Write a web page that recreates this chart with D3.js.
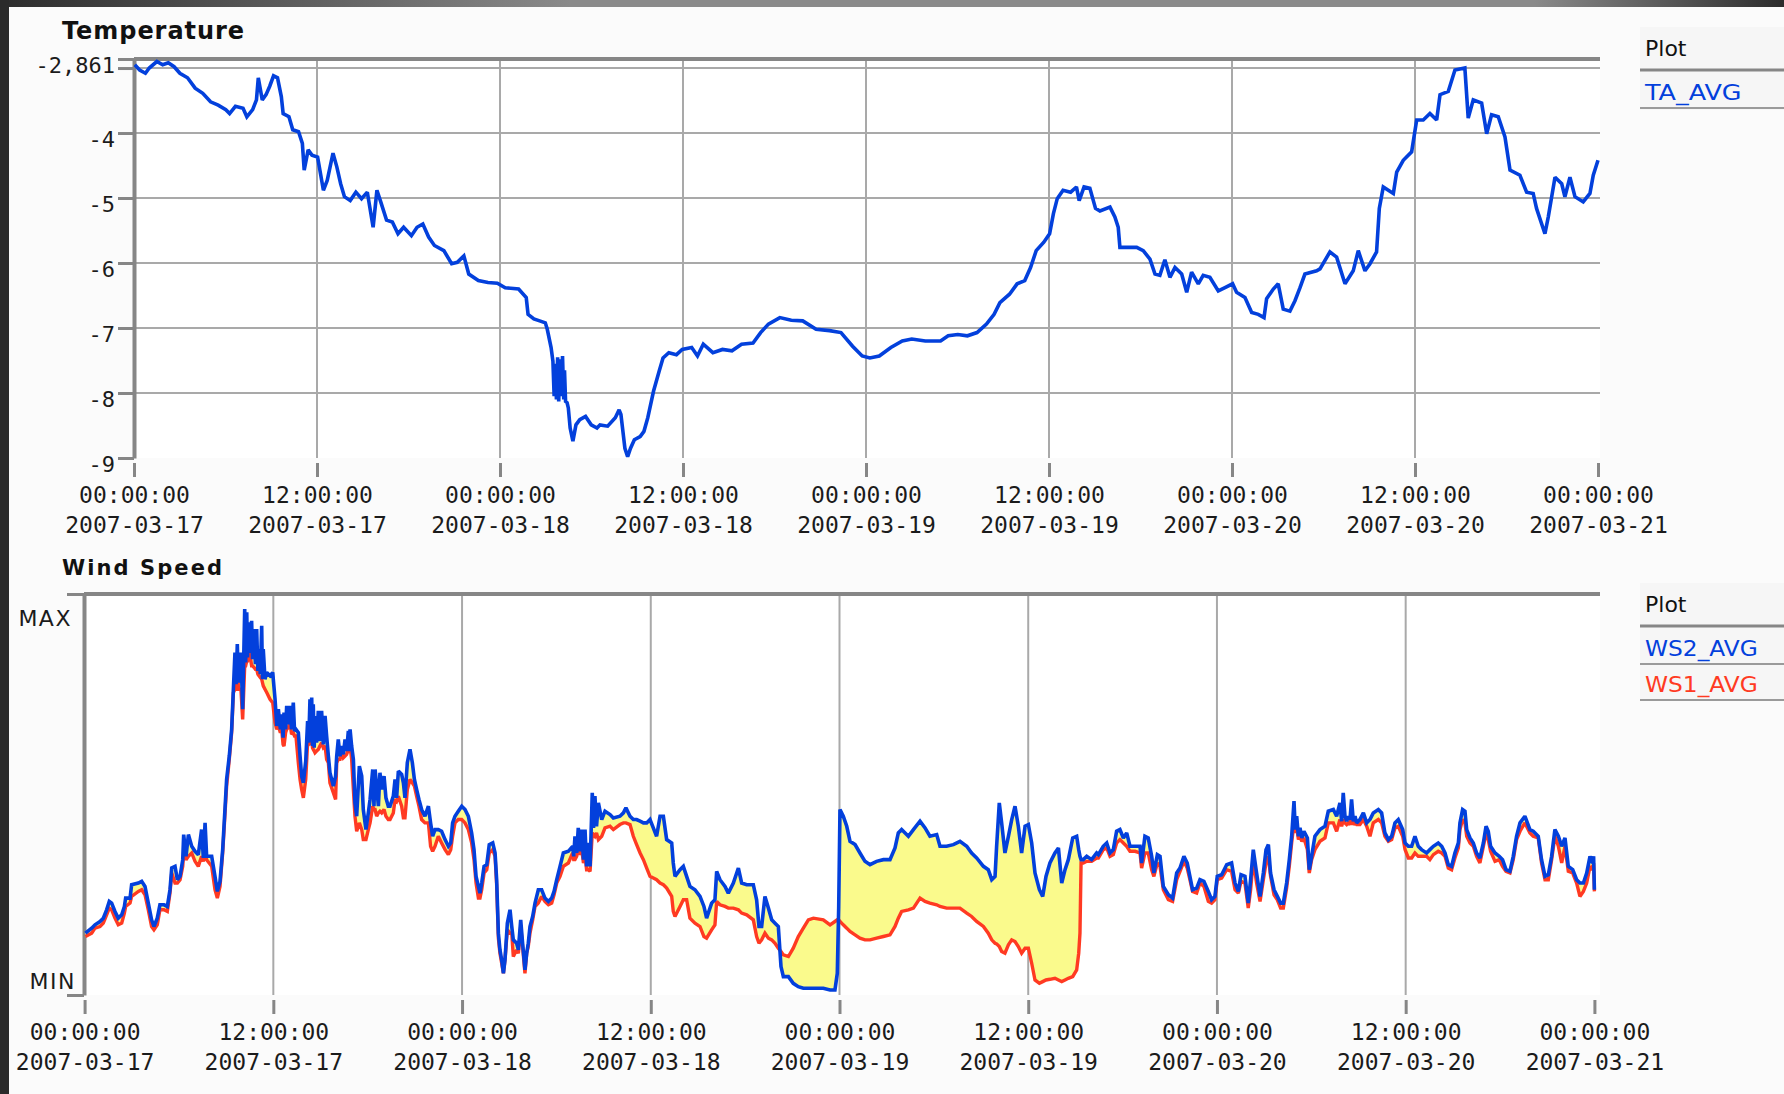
<!DOCTYPE html>
<html>
<head>
<meta charset="utf-8">
<title>Temperature and Wind Speed</title>
<script src="https://cdn.jsdelivr.net/npm/d3@7/dist/d3.min.js"></script>
<style>
  html, body { margin: 0; padding: 0; background: #fbfbfb; }
  svg { display: block; }
</style>
</head>
<body>
<svg id="chart" width="1784" height="1094"></svg>
<script>
// ---- Temperature (TA_AVG), hours after 2007-03-17 00:00 ----
const TA_AVG_HOURS = [
  0.05, 0.37, 0.75, 1.00, 1.50, 1.88, 2.25, 2.63, 3.01, 3.51,
  4.01, 4.51, 5.02, 5.52, 6.02, 6.27, 6.65, 7.15, 7.40, 7.78,
  8.03, 8.15, 8.41, 8.66, 8.90, 9.15, 9.41, 9.66, 9.78, 10.16,
  10.41, 10.79, 11.04, 11.16, 11.42, 11.67, 12.04, 12.42, 12.67, 13.05,
  13.30, 13.55, 13.80, 14.18, 14.55, 14.92, 15.30, 15.68, 15.93, 16.18,
  16.56, 16.94, 17.31, 17.68, 18.19, 18.56, 18.94, 19.32, 19.70, 20.32,
  20.83, 21.20, 21.63, 21.95, 22.58, 23.21, 23.83, 24.34, 25.22, 25.72,
  25.84, 26.22, 26.60, 26.97, 27.10, 27.35, 27.47, 27.55, 27.62, 27.70,
  27.78, 27.85, 27.93, 28.00, 28.10, 28.18, 28.23, 28.30, 28.40, 28.48,
  28.60, 28.78, 28.98, 29.23, 29.61, 29.98, 30.36, 30.56, 31.06, 31.56,
  31.81, 31.93, 32.19, 32.37, 32.56, 32.81, 33.19, 33.44, 33.69, 34.07,
  34.44, 34.69, 35.07, 35.57, 35.95, 36.57, 36.95, 37.33, 37.96, 38.59,
  39.21, 39.84, 40.59, 41.09, 41.60, 42.35, 43.10, 43.85, 44.73, 45.61,
  46.36, 47.12, 47.75, 48.25, 48.87, 49.63, 50.38, 51.00, 51.89, 52.89,
  53.39, 54.02, 54.65, 55.28, 55.90, 56.40, 56.78, 57.41, 57.91, 58.41,
  58.79, 59.16, 59.66, 60.04, 60.29, 60.54, 60.92, 61.42, 61.80, 61.98,
  62.30, 62.68, 63.05, 63.34, 64.00, 64.32, 64.54, 64.65, 65.75, 66.18,
  66.62, 66.95, 67.27, 67.60, 67.93, 68.26, 68.70, 69.03, 69.35, 69.79,
  70.11, 70.55, 71.10, 71.54, 72.04, 72.30, 72.85, 73.29, 73.72, 74.10,
  74.27, 74.71, 75.03, 75.36, 75.80, 76.13, 76.46, 76.78, 77.55, 77.77,
  78.42, 78.86, 79.41, 79.95, 80.28, 80.72, 81.05, 81.48, 81.66, 81.92,
  82.58, 82.80, 83.23, 83.78, 84.11, 84.54, 84.98, 85.42, 85.64, 86.18,
  86.62, 87.27, 87.49, 87.82, 88.37, 88.70, 89.02, 89.46, 89.90, 90.23,
  90.88, 91.32, 91.75, 91.97, 92.52, 92.74, 93.18, 93.62, 93.83, 94.16,
  94.49, 95.03, 95.47, 95.69, 96.00
];
const TA_AVG = [
  -2.95, -3.03, -3.08, -3.00, -2.90, -2.95, -2.92, -2.98, -3.08, -3.15,
  -3.31, -3.39, -3.52, -3.57, -3.64, -3.70, -3.59, -3.62, -3.75, -3.64,
  -3.49, -3.15, -3.49, -3.41, -3.28, -3.12, -3.15, -3.44, -3.70, -3.75,
  -3.95, -3.98, -4.16, -4.57, -4.26, -4.34, -4.37, -4.88, -4.73, -4.31,
  -4.52, -4.78, -4.98, -5.04, -4.91, -5.01, -4.91, -5.45, -4.88, -5.06,
  -5.34, -5.37, -5.55, -5.45, -5.58, -5.45, -5.40, -5.60, -5.73, -5.81,
  -6.01, -5.99, -5.89, -6.17, -6.27, -6.30, -6.31, -6.38, -6.40, -6.53,
  -6.79, -6.86, -6.89, -6.92, -7.02, -7.30, -7.51, -8.05, -7.55, -8.10,
  -7.45, -8.13, -7.48, -8.05, -7.43, -8.10, -7.65, -8.13, -8.15, -8.23,
  -8.54, -8.74, -8.49, -8.41, -8.36, -8.49, -8.54, -8.49, -8.51, -8.38,
  -8.26, -8.33, -8.85, -8.98, -8.85, -8.72, -8.67, -8.59, -8.38, -7.97,
  -7.66, -7.46, -7.38, -7.41, -7.33, -7.30, -7.43, -7.25, -7.38, -7.33,
  -7.35, -7.25, -7.23, -7.07, -6.94, -6.84, -6.88, -6.89, -7.02, -7.04,
  -7.07, -7.28, -7.43, -7.46, -7.43, -7.30, -7.20, -7.17, -7.20, -7.20,
  -7.12, -7.10, -7.12, -7.07, -6.94, -6.79, -6.61, -6.48, -6.32, -6.27,
  -6.07, -5.81, -5.68, -5.55, -5.24, -5.01, -4.88, -4.91, -4.83, -5.04,
  -4.83, -4.85, -5.16, -5.20, -5.14, -5.29, -5.45, -5.76, -5.76, -5.81,
  -5.94, -6.17, -6.19, -5.95, -6.22, -6.07, -6.17, -6.45, -6.14, -6.32,
  -6.19, -6.22, -6.43, -6.38, -6.32, -6.45, -6.53, -6.76, -6.79, -6.84,
  -6.55, -6.40, -6.32, -6.71, -6.74, -6.58, -6.38, -6.17, -6.12, -6.09,
  -5.83, -5.91, -6.32, -6.12, -5.81, -6.12, -6.01, -5.83, -5.16, -4.83,
  -4.93, -4.60, -4.42, -4.29, -3.80, -3.80, -3.70, -3.80, -3.41, -3.36,
  -3.03, -3.00, -3.77, -3.49, -3.54, -4.01, -3.72, -3.75, -4.06, -4.57,
  -4.65, -4.91, -4.93, -5.16, -5.55, -5.29, -4.68, -4.78, -4.98, -4.68,
  -4.98, -5.06, -4.93, -4.65, -4.42
];

// ---- Wind speed (WS2_AVG, WS1_AVG), hours after 2007-03-17 00:00 ----
const WIND_HOURS = [
  0.05, 0.45, 0.66, 0.98, 1.19, 1.40, 1.57, 1.72, 1.93, 2.14,
  2.36, 2.53, 2.61, 2.89, 2.99, 3.42, 3.63, 3.84, 4.05, 4.26,
  4.41, 4.62, 4.79, 5.05, 5.26, 5.43, 5.54, 5.75, 5.90, 6.07,
  6.24, 6.30, 6.45, 6.60, 6.81, 7.02, 7.23, 7.44, 7.55, 7.66,
  7.76, 8.08, 8.29, 8.44, 8.61, 8.78, 8.93, 9.03, 9.20, 9.35,
  9.46, 9.56, 9.63, 9.71, 9.78, 9.84, 9.94, 10.05, 10.18, 10.24,
  10.31, 10.36, 10.41, 10.48, 10.56, 10.62, 10.68, 10.78, 10.86, 10.94,
  11.02, 11.09, 11.17, 11.26, 11.31, 11.36, 11.47, 11.58, 11.79, 11.96,
  12.11, 12.22, 12.32, 12.45, 12.53, 12.62, 12.68, 12.78, 12.85, 12.95,
  13.06, 13.16, 13.27, 13.35, 13.44, 13.59, 13.70, 13.80, 13.91, 14.06,
  14.18, 14.25, 14.33, 14.39, 14.44, 14.49, 14.54, 14.60, 14.65, 14.75,
  14.86, 14.96, 15.07, 15.18, 15.29, 15.39, 15.50, 15.60, 15.82, 15.96,
  16.03, 16.13, 16.24, 16.35, 16.45, 16.56, 16.66, 16.77, 16.83, 16.88,
  16.98, 17.09, 17.19, 17.30, 17.47, 17.62, 17.72, 17.89, 18.04, 18.15,
  18.32, 18.40, 18.47, 18.57, 18.68, 18.78, 18.89, 19.04, 19.16, 19.31,
  19.42, 19.63, 19.74, 19.84, 19.95, 20.16, 20.27, 20.37, 20.52, 20.69,
  20.84, 20.97, 21.11, 21.26, 21.43, 21.64, 21.86, 22.00, 22.13, 22.28,
  22.49, 22.70, 22.92, 23.13, 23.28, 23.40, 23.55, 23.76, 23.98, 24.19,
  24.40, 24.61, 24.76, 24.89, 25.04, 25.14, 25.25, 25.40, 25.57, 25.73,
  25.95, 26.10, 26.20, 26.31, 26.41, 26.52, 26.63, 26.73, 26.88, 27.05,
  27.16, 27.26, 27.47, 27.58, 27.73, 27.85, 28.00, 28.11, 28.21, 28.32,
  28.49, 28.64, 28.85, 29.06, 29.27, 29.49, 29.70, 29.85, 30.02, 30.23,
  30.44, 30.76, 31.03, 31.10, 31.18, 31.29, 31.39, 31.50, 31.61, 31.72,
  31.82, 31.92, 32.03, 32.14, 32.28, 32.36, 32.45, 32.55, 32.67, 32.88,
  33.09, 33.41, 33.62, 34.04, 34.26, 34.42, 34.68, 34.89, 35.10, 35.32,
  35.53, 35.74, 35.95, 36.16, 36.37, 36.59, 36.80, 37.01, 37.33, 37.43,
  37.54, 37.86, 38.07, 38.28, 38.49, 38.81, 39.13, 39.38, 39.55, 39.87,
  40.08, 40.19, 40.40, 40.72, 40.93, 41.25, 41.57, 41.78, 42.10, 42.52,
  42.73, 42.88, 43.05, 43.26, 43.48, 43.69, 43.90, 44.11, 44.28, 44.43,
  44.75, 45.06, 45.38, 45.70, 46.02, 46.34, 46.97, 47.40, 47.71, 47.86,
  47.95, 48.03, 48.24, 48.46, 48.67, 48.99, 49.30, 49.62, 49.94, 50.36,
  50.79, 51.21, 51.53, 51.74, 51.95, 52.38, 52.70, 53.12, 53.44, 53.75,
  54.18, 54.39, 54.81, 55.24, 55.66, 56.09, 56.40, 56.72, 57.15, 57.46,
  57.68, 57.89, 57.99, 58.16, 58.31, 58.52, 58.74, 58.95, 59.16, 59.37,
  59.58, 59.80, 60.01, 60.22, 60.43, 60.71, 60.92, 61.13, 61.38, 61.70,
  61.92, 62.13, 62.34, 62.55, 62.83, 63.08, 63.21, 63.29, 63.36, 63.50,
  63.72, 64.03, 64.35, 64.46, 64.77, 64.99, 65.20, 65.41, 65.62, 65.83,
  66.05, 66.26, 66.47, 66.79, 67.11, 67.21, 67.42, 67.63, 67.85, 67.99,
  68.21, 68.38, 68.59, 68.91, 69.18, 69.44, 69.65, 69.90, 70.11, 70.28,
  70.45, 70.71, 70.92, 71.17, 71.45, 71.66, 71.87, 72.02, 72.30, 72.62,
  72.93, 73.15, 73.36, 73.53, 73.78, 73.99, 74.14, 74.31, 74.52, 74.74,
  74.95, 75.12, 75.27, 75.41, 75.63, 75.84, 76.05, 76.22, 76.43, 76.60,
  76.75, 76.90, 76.98, 77.07, 77.18, 77.28, 77.40, 77.53, 77.75, 77.87,
  78.02, 78.23, 78.55, 78.87, 79.08, 79.40, 79.61, 79.82, 79.93, 80.03,
  80.14, 80.25, 80.35, 80.46, 80.56, 80.67, 80.78, 80.88, 81.09, 81.31,
  81.52, 81.73, 81.94, 82.26, 82.47, 82.68, 82.90, 83.11, 83.32, 83.53,
  83.81, 83.96, 84.17, 84.38, 84.59, 84.80, 85.01, 85.33, 85.54, 85.76,
  86.07, 86.29, 86.50, 86.71, 86.92, 87.13, 87.35, 87.45, 87.62, 87.77,
  87.88, 88.09, 88.30, 88.51, 88.72, 88.94, 89.11, 89.25, 89.40, 89.68,
  89.95, 90.16, 90.38, 90.63, 90.84, 91.05, 91.27, 91.58, 91.90, 92.11,
  92.43, 92.64, 92.86, 93.07, 93.28, 93.49, 93.71, 93.92, 94.13, 94.34,
  94.62, 94.87, 95.08, 95.30, 95.51, 95.72, 95.89, 95.95, 96.00
];
const WS2_AVG = [
  1.85, 2.00, 2.10, 2.20, 2.30, 2.55, 2.80, 2.75, 2.50, 2.30,
  2.40, 2.65, 2.90, 2.90, 3.30, 3.35, 3.40, 3.25, 2.75, 2.25,
  2.05, 2.30, 2.70, 2.70, 2.65, 3.15, 3.80, 3.85, 3.45, 3.55,
  4.05, 4.80, 4.15, 4.80, 4.45, 4.30, 4.20, 4.95, 4.10, 5.15,
  4.15, 4.15, 3.55, 3.10, 3.40, 4.35, 5.60, 6.45, 7.15, 7.95,
  9.15, 10.25, 9.30, 10.50, 9.35, 9.70, 10.25, 8.55, 11.55, 9.95,
  11.45, 10.10, 11.15, 10.35, 10.25, 11.20, 10.05, 10.95, 9.90, 10.95,
  9.70, 10.35, 9.60, 11.05, 9.45, 10.35, 9.45, 9.65, 9.55, 9.65,
  8.85, 8.05, 8.55, 7.95, 8.40, 7.70, 8.45, 7.95, 8.65, 8.10,
  8.65, 7.95, 8.75, 7.90, 7.95, 7.85, 7.15, 6.55, 6.35, 7.00,
  8.20, 7.55, 8.85, 7.60, 8.90, 7.45, 8.70, 7.40, 8.35, 7.55,
  8.50, 7.60, 8.50, 7.50, 8.35, 7.75, 7.15, 6.65, 6.25, 6.55,
  7.15, 7.65, 7.15, 7.45, 7.20, 7.65, 7.30, 7.90, 7.30, 7.95,
  7.45, 7.05, 5.75, 5.35, 6.85, 6.55, 5.55, 4.95, 5.45, 5.85,
  6.75, 5.65, 6.75, 6.25, 5.65, 6.65, 6.15, 6.55, 5.90, 5.65,
  5.65, 5.95, 6.45, 5.90, 6.70, 6.60, 6.35, 5.90, 6.95, 7.35,
  6.95, 6.45, 6.15, 5.85, 5.55, 5.35, 5.65, 5.15, 4.75, 4.95,
  4.95, 4.90, 4.65, 4.45, 4.55, 5.15, 5.35, 5.50, 5.65, 5.55,
  5.35, 4.85, 4.35, 3.55, 3.25, 3.05, 3.35, 3.85, 3.90, 4.50,
  4.55, 4.25, 3.45, 1.85, 1.35, 1.05, 0.65, 1.05, 2.15, 2.55,
  2.05, 1.65, 1.55, 1.35, 2.25, 1.55, 0.75, 1.25, 1.55, 2.05,
  2.35, 2.75, 3.15, 3.15, 2.90, 2.80, 2.90, 3.10, 3.45, 3.85,
  4.25, 4.30, 4.45, 4.15, 4.75, 4.25, 5.00, 4.30, 4.95, 4.05,
  4.95, 3.85, 4.55, 3.85, 6.05, 5.00, 5.95, 5.05, 5.75, 5.25,
  5.50, 5.40, 5.30, 5.35, 5.45, 5.60, 5.35, 5.25, 5.25, 5.20,
  5.15, 5.15, 5.25, 5.00, 4.75, 5.35, 5.35, 4.65, 4.55, 3.95,
  3.55, 3.75, 3.85, 3.55, 3.25, 3.15, 2.95, 2.65, 2.30, 2.75,
  2.85, 3.70, 3.45, 3.25, 3.05, 3.35, 3.80, 3.35, 3.30, 3.30,
  2.85, 2.05, 2.05, 2.95, 2.60, 2.25, 2.15, 2.05, 0.85, 0.55,
  0.55, 0.35, 0.25, 0.20, 0.20, 0.20, 0.20, 0.15, 0.15, 0.65,
  2.65, 5.55, 5.35, 5.05, 4.60, 4.50, 4.25, 4.00, 3.90, 4.00,
  4.05, 4.05, 4.40, 4.85, 4.95, 4.75, 4.95, 5.20, 5.00, 4.75,
  4.80, 4.45, 4.45, 4.50, 4.60, 4.45, 4.25, 4.10, 3.85, 3.75,
  3.45, 3.55, 4.45, 5.75, 5.15, 4.25, 4.75, 5.25, 5.65, 5.05,
  4.25, 5.05, 5.10, 4.55, 3.65, 3.15, 2.95, 3.55, 3.95, 4.25,
  4.40, 3.35, 3.75, 4.05, 4.70, 4.75, 4.35, 4.15, 4.05, 4.05,
  4.15, 4.05, 4.25, 4.20, 4.45, 4.55, 4.25, 4.35, 4.90, 4.95,
  4.70, 4.85, 4.45, 4.45, 4.45, 3.95, 4.75, 4.70, 4.15, 3.65,
  4.20, 4.15, 3.25, 3.00, 2.90, 3.65, 3.80, 4.15, 3.95, 3.55,
  3.15, 3.20, 3.45, 3.40, 3.10, 2.85, 2.95, 3.55, 3.60, 3.90,
  3.95, 3.35, 3.10, 3.60, 3.55, 2.75, 3.45, 4.35, 3.65, 2.95,
  3.65, 4.35, 4.50, 3.65, 3.15, 2.95, 2.75, 2.75, 3.35, 4.05,
  4.75, 5.80, 4.95, 5.35, 4.75, 5.00, 4.70, 4.90, 4.70, 3.75,
  4.15, 4.75, 4.95, 5.05, 5.50, 5.55, 5.35, 5.75, 5.20, 6.05,
  5.35, 5.20, 5.35, 5.25, 5.85, 5.20, 5.35, 5.15, 5.25, 5.45,
  5.15, 5.25, 5.45, 5.55, 5.45, 4.85, 4.65, 4.75, 5.15, 5.25,
  4.95, 4.55, 4.45, 4.45, 4.75, 4.45, 4.35, 4.25, 4.35, 4.45,
  4.55, 4.45, 4.25, 3.90, 3.85, 4.25, 4.55, 5.15, 5.55, 5.50,
  4.95, 4.70, 4.55, 4.25, 4.10, 4.55, 5.05, 4.90, 4.45, 4.25,
  4.15, 4.05, 3.75, 3.70, 4.15, 4.75, 5.15, 5.35, 4.95, 4.90,
  4.75, 4.05, 3.55, 3.60, 4.15, 4.95, 4.75, 4.45, 4.70, 3.85,
  3.75, 3.45, 3.35, 3.35, 3.65, 4.15, 3.95, 4.15, 3.15
];
const WS1_AVG = [
  1.75, 1.85, 2.00, 2.05, 2.15, 2.40, 2.60, 2.55, 2.30, 2.10,
  2.15, 2.45, 2.65, 2.75, 2.95, 3.10, 3.15, 3.00, 2.55, 2.05,
  1.95, 2.10, 2.55, 2.55, 2.50, 3.05, 3.65, 3.35, 3.35, 3.45,
  3.85, 4.25, 4.05, 4.15, 4.25, 4.00, 3.85, 4.15, 4.00, 4.25,
  4.05, 3.85, 3.15, 2.90, 3.25, 4.25, 5.45, 6.25, 7.05, 7.85,
  9.05, 9.15, 9.15, 10.15, 9.15, 9.15, 9.15, 8.25, 9.85, 9.85,
  10.00, 10.00, 10.35, 10.30, 10.05, 9.85, 9.85, 9.80, 9.75, 9.75,
  9.60, 9.55, 9.50, 9.45, 9.35, 9.25, 9.15, 9.05, 8.85, 8.75,
  8.15, 7.95, 8.05, 7.85, 7.95, 7.50, 7.45, 7.85, 7.95, 8.00,
  8.15, 7.80, 7.85, 7.75, 7.75, 6.95, 6.45, 6.15, 5.90, 6.45,
  7.55, 7.50, 7.55, 7.50, 7.65, 7.40, 7.35, 7.30, 7.25, 7.30,
  7.35, 7.45, 7.55, 7.40, 7.45, 7.05, 6.95, 6.35, 6.05, 5.85,
  6.95, 7.05, 7.05, 7.25, 7.10, 7.15, 7.20, 7.35, 7.25, 7.45,
  7.05, 6.15, 5.35, 4.90, 5.15, 4.95, 4.65, 4.65, 4.95, 5.15,
  5.65, 5.55, 5.55, 5.35, 5.45, 5.50, 5.45, 5.55, 5.35, 5.25,
  5.25, 5.45, 5.85, 5.80, 5.95, 5.65, 5.30, 5.30, 6.15, 6.45,
  6.35, 6.25, 5.95, 5.65, 5.25, 5.15, 5.15, 4.45, 4.30, 4.45,
  4.75, 4.55, 4.35, 4.20, 4.35, 4.75, 5.15, 5.25, 5.25, 5.15,
  4.95, 4.55, 4.05, 3.35, 2.90, 2.90, 3.15, 3.65, 3.75, 4.25,
  4.35, 4.15, 3.30, 1.70, 1.25, 0.95, 0.65, 1.05, 1.95, 1.85,
  1.85, 1.15, 1.35, 1.25, 2.05, 1.45, 0.65, 1.25, 1.45, 1.85,
  2.25, 2.65, 2.75, 2.95, 2.80, 2.70, 2.75, 3.00, 3.35, 3.55,
  3.85, 3.95, 4.25, 4.05, 4.05, 4.15, 4.45, 4.20, 4.35, 3.95,
  4.15, 3.75, 3.75, 3.70, 4.85, 4.80, 4.75, 4.85, 4.65, 4.75,
  5.00, 5.05, 4.95, 5.10, 5.15, 5.15, 5.10, 4.75, 4.50, 4.25,
  4.05, 3.80, 3.55, 3.50, 3.45, 3.35, 3.30, 3.20, 2.95, 2.50,
  2.35, 2.65, 2.85, 2.85, 2.30, 2.15, 2.05, 1.75, 1.70, 1.95,
  2.10, 2.80, 2.70, 2.65, 2.60, 2.60, 2.55, 2.45, 2.40, 2.25,
  1.75, 1.55, 1.65, 1.85, 1.70, 1.65, 1.55, 1.40, 1.30, 1.20,
  1.15, 1.40, 1.75, 2.00, 2.25, 2.30, 2.25, 2.10, 2.20, 2.25,
  2.25, 2.20, 2.10, 2.00, 1.90, 1.80, 1.70, 1.65, 1.65, 1.70,
  1.75, 1.80, 2.05, 2.30, 2.50, 2.55, 2.60, 2.90, 2.80, 2.75,
  2.70, 2.65, 2.60, 2.60, 2.60, 2.45, 2.35, 2.20, 2.05, 1.85,
  1.65, 1.55, 1.53, 1.45, 1.30, 1.25, 1.50, 1.65, 1.60, 1.45,
  1.25, 1.40, 1.40, 0.95, 0.45, 0.35, 0.40, 0.45, 0.47, 0.50,
  0.45, 0.40, 0.45, 0.50, 0.55, 0.75, 1.25, 1.85, 3.95, 3.95,
  4.00, 4.00, 4.10, 4.10, 4.35, 4.40, 4.15, 4.20, 4.55, 4.65,
  4.55, 4.45, 4.30, 4.30, 4.25, 3.80, 4.25, 4.25, 3.75, 3.55,
  3.95, 3.85, 3.15, 2.85, 2.80, 3.45, 3.70, 4.00, 3.80, 3.45,
  3.10, 3.05, 3.35, 3.25, 2.80, 2.75, 2.85, 3.45, 3.50, 3.75,
  3.70, 3.15, 3.05, 3.40, 3.35, 2.60, 3.15, 4.05, 3.35, 2.80,
  3.45, 3.95, 4.15, 3.55, 3.00, 2.85, 2.60, 2.60, 3.20, 3.85,
  4.55, 5.15, 4.85, 5.05, 4.65, 4.75, 4.60, 4.70, 4.35, 3.65,
  4.05, 4.35, 4.60, 4.70, 5.15, 5.15, 4.90, 5.25, 5.05, 5.25,
  5.15, 5.10, 5.15, 5.10, 5.35, 5.10, 5.15, 5.10, 5.10, 5.25,
  5.05, 4.75, 5.15, 5.25, 5.15, 4.75, 4.60, 4.65, 5.00, 5.05,
  4.75, 4.35, 4.10, 4.10, 4.25, 4.15, 4.15, 4.15, 4.05, 4.20,
  4.30, 4.25, 4.15, 3.80, 3.75, 4.10, 4.40, 4.95, 5.25, 5.15,
  4.75, 4.55, 4.45, 4.15, 3.95, 4.45, 4.85, 4.65, 4.30, 4.00,
  4.05, 3.85, 3.70, 3.65, 4.05, 4.65, 4.90, 5.15, 4.85, 4.75,
  4.70, 3.95, 3.45, 3.45, 4.05, 4.75, 4.45, 3.95, 4.45, 3.70,
  3.65, 3.35, 2.95, 3.10, 3.35, 3.85, 3.75, 3.95, 3.10
];

// ---- Axis ticks and legend entries ----
const TEMP_TICKS = [-2.861, -3, -4, -5, -6, -7, -8, -9];
const TEMP_TICK_LABELS = ["-2,861", "", "-4", "-5", "-6", "-7", "-8", "-9"];
const WIND_TICKS = [0, 12];
const WIND_TICK_LABELS = ["MIN", "MAX"];
const TEMP_LEGEND = ["TA_AVG"];
const WIND_LEGEND = ["WS2_AVG", "WS1_AVG"];

// ---------------------------------------------------------------
const W = 1784, H = 1094;
const MONO = "'DejaVu Sans Mono', 'Liberation Mono', monospace";
const SANS = "'DejaVu Sans', Verdana, sans-serif";
const C = {
  blue: "#0340dc", red: "#ff3a22", fill: "#fafa8c",
  grid: "#a9a9a9", frame: "#868686", text: "#1b1b1b"
};
const t0 = new Date(2007, 2, 17, 0, 0, 0);
const t1 = new Date(2007, 2, 21, 0, 0, 0);
const at = h => new Date(t0.getTime() + h * 3600 * 1000);
const fmtTime = d3.timeFormat("%H:%M:%S");
const fmtDate = d3.timeFormat("%Y-%m-%d");

const svg = d3.select("#chart");
const defs = svg.append("defs");

// window background and edges
const bar = defs.append("linearGradient").attr("id", "titleBar").attr("x1", 0).attr("x2", 1);
[[0, "#2c2c2c"], [0.32, "#8a8a8a"], [0.86, "#8a8a8a"], [1, "#2c2c2c"]]
  .forEach(([o, c]) => bar.append("stop").attr("offset", o).attr("stop-color", c));
svg.append("rect").attr("width", W).attr("height", H).attr("fill", "#fbfbfb");
svg.append("rect").attr("width", W).attr("height", 7).attr("fill", "url(#titleBar)");
svg.append("rect").attr("width", 9).attr("height", H).attr("fill", "#2b2b2b");

function addClip(id, x, y, w, h) {
  defs.append("clipPath").attr("id", id)
    .append("rect").attr("x", x).attr("y", y).attr("width", w).attr("height", h);
}

function timeAxis(g, x, yPos) {
  const ag = g.append("g").attr("transform", `translate(0,${yPos})`)
    .call(d3.axisBottom(x).ticks(d3.timeHour.every(12)).tickSize(14).tickSizeOuter(0));
  ag.select(".domain").remove();
  ag.selectAll(".tick line").attr("stroke", C.frame).attr("stroke-width", 3);
  ag.selectAll(".tick text").each(function (d) {
    const t = d3.select(this).attr("dy", null).attr("y", null).text(null)
      .attr("font-family", MONO).attr("font-size", 23).attr("fill", C.text);
    t.append("tspan").attr("x", 0).attr("y", 40).text(fmtTime(d));
    t.append("tspan").attr("x", 0).attr("y", 70).text(fmtDate(d));
  });
}

function legend(g, y0, entries, colors, bottom) {
  g.append("rect").attr("x", 1640).attr("y", y0).attr("width", W - 1640)
    .attr("height", bottom - y0).attr("fill", "#f6f6f6");
  g.append("text").attr("x", 1645).attr("y", y0 + 29).text("Plot")
    .attr("font-family", SANS).attr("font-size", 22).attr("fill", "#111");
  g.append("line").attr("x1", 1640).attr("x2", W).attr("y1", y0 + 43).attr("y2", y0 + 43)
    .attr("stroke", C.frame).attr("stroke-width", 3);
  entries.forEach((name, i) => {
    const base = y0 + 73 + i * 36;
    g.append("text").attr("x", 1645).attr("y", base).text(name)
      .attr("font-family", SANS).attr("font-size", 21).attr("fill", colors[i])
      .attr("textLength", name.length * 16.1).attr("lengthAdjust", "spacingAndGlyphs");
    g.append("line").attr("x1", 1640).attr("x2", W).attr("y1", base + 8).attr("y2", base + 8)
      .attr("stroke", "#9a9a9a").attr("stroke-width", 2);
  });
}

// ================= Temperature =================
{
  const L = 134, R = 1600, T = 59, B = 458;
  const x = d3.scaleTime().domain([t0, t1]).range([134, 1598]);
  const y = d3.scaleLinear().domain([-9, -2.861]).range([B, T]);
  const g = svg.append("g");

  g.append("rect").attr("x", L).attr("y", T).attr("width", R - L).attr("height", B - T).attr("fill", "#fff");

  g.append("g").selectAll("line").data(TEMP_TICKS.filter(v => v > -9 && v < -2.861)).join("line")
    .attr("x1", L).attr("x2", R).attr("y1", d => y(d)).attr("y2", d => y(d))
    .attr("stroke", C.grid).attr("stroke-width", 2);
  g.append("g").selectAll("line").data(x.ticks(d3.timeHour.every(12)).slice(1, -1)).join("line")
    .attr("x1", d => x(d)).attr("x2", d => x(d)).attr("y1", T).attr("y2", B)
    .attr("stroke", C.grid).attr("stroke-width", 2);

  g.append("line").attr("x1", L).attr("x2", R).attr("y1", T).attr("y2", T)
    .attr("stroke", C.frame).attr("stroke-width", 4);

  const ya = g.append("g").attr("transform", `translate(${L},0)`)
    .call(d3.axisLeft(y).tickValues(TEMP_TICKS).tickSize(16).tickSizeOuter(0).tickPadding(3)
      .tickFormat((d, i) => TEMP_TICK_LABELS[i]));
  ya.select(".domain").attr("stroke", C.frame).attr("stroke-width", 4);
  ya.selectAll(".tick line").attr("stroke", C.frame).attr("stroke-width", 3);
  ya.selectAll(".tick text").attr("dy", 13).attr("font-family", MONO)
    .attr("font-size", 22).attr("fill", C.text);

  timeAxis(g, x, 463);

  addClip("clipTemp", L, T - 3, R - L, B - T + 6);
  const data = TA_AVG_HOURS.map((h, i) => ({ t: at(h), v: TA_AVG[i] }));
  g.append("path").datum(data).attr("clip-path", "url(#clipTemp)")
    .attr("d", d3.line().x(d => x(d.t)).y(d => y(d.v)))
    .attr("fill", "none").attr("stroke", C.blue).attr("stroke-width", 3.6)
    .attr("stroke-linejoin", "miter").attr("stroke-miterlimit", 2);

  g.append("text").attr("x", 62).attr("y", 39).text("Temperature")
    .attr("font-family", SANS).attr("font-weight", "bold").attr("font-size", 24)
    .attr("fill", "#111").attr("textLength", 182).attr("lengthAdjust", "spacing");

  legend(g, 27, TEMP_LEGEND, [C.blue], 110);
}

// ================= Wind Speed =================
{
  const L = 84, R = 1600, T = 594, B = 995;
  const x = d3.scaleTime().domain([t0, t1]).range([84.6, 1594.4]);
  const y = d3.scaleLinear().domain([0, 12]).range([B, T]);
  const g = svg.append("g");

  g.append("rect").attr("x", L).attr("y", T).attr("width", R - L).attr("height", B - T).attr("fill", "#fff");

  g.append("g").selectAll("line").data(x.ticks(d3.timeHour.every(12)).slice(1, -1)).join("line")
    .attr("x1", d => x(d)).attr("x2", d => x(d)).attr("y1", T).attr("y2", B)
    .attr("stroke", C.grid).attr("stroke-width", 2);

  g.append("line").attr("x1", L).attr("x2", R).attr("y1", T).attr("y2", T)
    .attr("stroke", C.frame).attr("stroke-width", 4);

  const ya = g.append("g").attr("transform", `translate(${L},0)`)
    .call(d3.axisLeft(y).tickValues(WIND_TICKS).tickSize(17).tickSizeOuter(0)
      .tickFormat((d, i) => WIND_TICK_LABELS[i]));
  ya.select(".domain").attr("stroke", C.frame).attr("stroke-width", 4);
  ya.selectAll(".tick line").attr("stroke", C.frame).attr("stroke-width", 3);
  ya.selectAll(".tick text")
    .attr("x", d => d > 0 ? -12 : -8)
    .attr("dy", d => d > 0 ? 31 : -7)
    .attr("font-family", SANS).attr("font-size", 22).attr("letter-spacing", 1.5)
    .attr("fill", C.text);

  timeAxis(g, x, 1000);

  addClip("clipWind", L, T, R - L, B - T + 4);
  const data = WIND_HOURS.map((h, i) => ({ t: at(h), a: WS2_AVG[i], b: WS1_AVG[i] }));
  const plot = g.append("g").attr("clip-path", "url(#clipWind)");
  plot.append("path").datum(data)
    .attr("d", d3.area().x(d => x(d.t)).y0(d => y(d.b)).y1(d => y(d.a)))
    .attr("fill", C.fill);
  plot.append("path").datum(data)
    .attr("d", d3.line().x(d => x(d.t)).y(d => y(d.b)))
    .attr("fill", "none").attr("stroke", C.red).attr("stroke-width", 3.4)
    .attr("stroke-linejoin", "miter").attr("stroke-miterlimit", 2);
  plot.append("path").datum(data)
    .attr("d", d3.line().x(d => x(d.t)).y(d => y(d.a)))
    .attr("fill", "none").attr("stroke", C.blue).attr("stroke-width", 3.6)
    .attr("stroke-linejoin", "miter").attr("stroke-miterlimit", 2);

  g.append("text").attr("x", 62).attr("y", 575).text("Wind Speed")
    .attr("font-family", SANS).attr("font-weight", "bold").attr("font-size", 21)
    .attr("fill", "#111").attr("textLength", 160).attr("lengthAdjust", "spacing");

  legend(g, 583, WIND_LEGEND, [C.blue, C.red], 700);
}
</script>
</body>
</html>
